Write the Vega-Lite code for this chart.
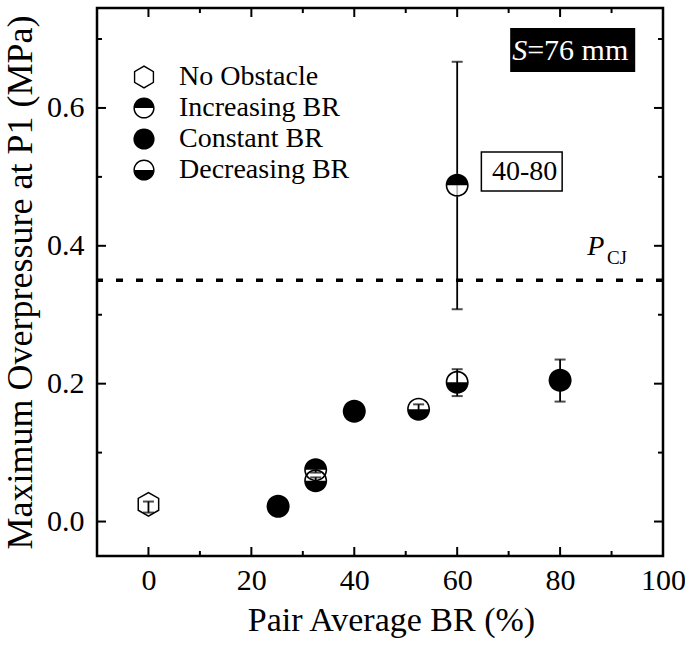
{
  "$schema": "https://vega.github.io/schema/vega-lite/v6.json",
  "width": 566,
  "height": 548,
  "autosize": {"type": "none"},
  "padding": {"left": 97, "top": 8, "right": 22, "bottom": 89},
  "config": {
    "view": {"stroke": "black", "strokeWidth": 2.5},
    "font": "Liberation Serif",
    "axis": {
      "domain": false,
      "grid": false,
      "ticks": false,
      "labelFlush": false,
      "labelOverlap": false,
      "labelFont": "Liberation Serif",
      "titleFont": "Liberation Serif",
      "labelColor": "black",
      "titleColor": "black",
      "labelFontSize": 30,
      "titleFontSize": 34,
      "titleFontWeight": "normal"
    }
  },
  "datasets": {
    "points": [
      {"type": "No Obstacle", "x": 0, "y": 0.025, "lo": 0.013, "hi": 0.029},
      {"type": "Constant BR", "x": 25.2, "y": 0.022},
      {"type": "Increasing BR", "x": 32.5, "y": 0.075, "lo": 0.071, "hi": 0.079},
      {"type": "Decreasing BR", "x": 32.5, "y": 0.059, "lo": 0.056, "hi": 0.064},
      {"type": "Constant BR", "x": 40, "y": 0.16},
      {"type": "Decreasing BR", "x": 52.5, "y": 0.163, "lo": 0.158, "hi": 0.17},
      {"type": "Increasing BR", "x": 60, "y": 0.488, "lo": 0.308, "hi": 0.667},
      {"type": "Decreasing BR", "x": 60, "y": 0.202, "lo": 0.182, "hi": 0.221},
      {"type": "Constant BR", "x": 80, "y": 0.205, "lo": 0.174, "hi": 0.235}
    ],
    "xmajor": [{"t": 0}, {"t": 20}, {"t": 40}, {"t": 60}, {"t": 80}],
    "xminor": [{"t": 10}, {"t": 30}, {"t": 50}, {"t": 70}, {"t": 90}],
    "ymajor": [{"v": 0}, {"v": 0.2}, {"v": 0.4}, {"v": 0.6}],
    "yminor": [{"v": 0.1}, {"v": 0.3}, {"v": 0.5}, {"v": 0.7}]
  },
  "data": {"name": "points"},
  "resolve": {"axis": {"x": "independent", "y": "independent"}},
  "layer": [
    {
      "data": {"values": [{"pcj": 0.35}]},
      "mark": {"type": "rule", "strokeDash": [7, 13], "strokeWidth": 3.5, "color": "black"},
      "encoding": {
        "y": {"field": "pcj", "type": "quantitative", "scale": {"domain": [-0.05, 0.745], "nice": false, "zero": false}, "axis": null}
      }
    },
    {
      "mark": {"type": "rule", "strokeWidth": 1.8, "color": "black"},
      "transform": [{"filter": "isValid(datum.lo)"}],
      "encoding": {
        "x": {"field": "x", "type": "quantitative", "scale": {"domain": [-10, 100], "nice": false, "zero": false},
          "axis": {"orient": "bottom", "values": [0, 20, 40, 60, 80, 100], "labelPadding": 9, "title": "Pair Average BR (%)", "titlePadding": 8, "titleX": 294}},
        "y": {"field": "lo", "type": "quantitative", "scale": {"domain": [-0.05, 0.745], "nice": false, "zero": false},
          "axis": {"orient": "left", "values": [0, 0.2, 0.4, 0.6], "format": ".1f", "labelPadding": 13, "title": "Maximum Overpressure at P1 (MPa)", "titleFontSize": 36, "titlePadding": 7}},
        "y2": {"field": "hi"}
      }
    },
    {
      "data": {"name": "xmajor"},
      "mark": {"type": "rule", "orient": "vertical", "strokeWidth": 2, "color": "black"},
      "encoding": {"x": {"field": "t", "type": "quantitative", "axis": null}, "y": {"datum": -0.05, "type": "quantitative", "axis": null}, "y2": {"datum": -0.0369}}
    },
    {
      "data": {"name": "xmajor"},
      "mark": {"type": "rule", "orient": "vertical", "strokeWidth": 2, "color": "black"},
      "encoding": {"x": {"field": "t", "type": "quantitative", "axis": null}, "y": {"datum": 0.745, "type": "quantitative", "axis": null}, "y2": {"datum": 0.7319}}
    },
    {
      "data": {"name": "xminor"},
      "mark": {"type": "rule", "orient": "vertical", "strokeWidth": 2, "color": "black"},
      "encoding": {"x": {"field": "t", "type": "quantitative", "axis": null}, "y": {"datum": -0.05, "type": "quantitative", "axis": null}, "y2": {"datum": -0.0427}}
    },
    {
      "data": {"name": "xminor"},
      "mark": {"type": "rule", "orient": "vertical", "strokeWidth": 2, "color": "black"},
      "encoding": {"x": {"field": "t", "type": "quantitative", "axis": null}, "y": {"datum": 0.745, "type": "quantitative", "axis": null}, "y2": {"datum": 0.7377}}
    },
    {
      "data": {"name": "ymajor"},
      "mark": {"type": "rule", "strokeWidth": 2, "color": "black"},
      "encoding": {"y": {"field": "v", "type": "quantitative", "axis": null}, "x": {"datum": -10, "type": "quantitative", "axis": null}, "x2": {"datum": -8.25}}
    },
    {
      "data": {"name": "ymajor"},
      "mark": {"type": "rule", "strokeWidth": 2, "color": "black"},
      "encoding": {"y": {"field": "v", "type": "quantitative", "axis": null}, "x": {"datum": 100, "type": "quantitative", "axis": null}, "x2": {"datum": 98.25}}
    },
    {
      "data": {"name": "yminor"},
      "mark": {"type": "rule", "strokeWidth": 2, "color": "black"},
      "encoding": {"y": {"field": "v", "type": "quantitative", "axis": null}, "x": {"datum": -10, "type": "quantitative", "axis": null}, "x2": {"datum": -9.03}}
    },
    {
      "data": {"name": "yminor"},
      "mark": {"type": "rule", "strokeWidth": 2, "color": "black"},
      "encoding": {"y": {"field": "v", "type": "quantitative", "axis": null}, "x": {"datum": 100, "type": "quantitative", "axis": null}, "x2": {"datum": 99.03}}
    },
    {
      "mark": {"type": "tick", "orient": "horizontal", "size": 11, "thickness": 2, "color": "black"},
      "transform": [{"filter": "isValid(datum.lo)"}],
      "encoding": {
        "x": {"field": "x", "type": "quantitative", "axis": null},
        "y": {"field": "lo", "type": "quantitative", "axis": null}
      }
    },
    {
      "mark": {"type": "tick", "orient": "horizontal", "size": 11, "thickness": 2, "color": "black"},
      "transform": [{"filter": "isValid(datum.hi)"}],
      "encoding": {
        "x": {"field": "x", "type": "quantitative", "axis": null},
        "y": {"field": "hi", "type": "quantitative", "axis": null}
      }
    },
    {
      "mark": {"type": "point", "shape": "circle", "filled": true, "fill": "white", "size": 529, "strokeWidth": 0},
      "transform": [{"filter": "isValid(datum.lo) && datum.hi - datum.lo > 0.1"}],
      "encoding": {
        "x": {"field": "x", "type": "quantitative", "axis": null},
        "y": {"field": "y", "type": "quantitative", "axis": null}
      }
    },
    {
      "mark": {"type": "point", "filled": true, "fill": "black", "size": 529, "strokeWidth": 0, "opacity": 1},
      "encoding": {
        "x": {"field": "x", "type": "quantitative", "axis": null},
        "y": {"field": "y", "type": "quantitative", "axis": null},
        "shape": {
          "field": "type", "type": "nominal",
          "scale": {
            "domain": ["No Obstacle", "Increasing BR", "Constant BR", "Decreasing BR"],
            "range": [
              "M 0 -1.1 L 0.953 -0.55 L 0.953 0.55 L 0 1.1 L -0.953 0.55 L -0.953 -0.55 Z M 0 -0.95 L -0.823 -0.475 L -0.823 0.475 L 0 0.95 L 0.823 0.475 L 0.823 -0.475 Z",
              "M -1 0 A 1 1 0 1 1 1 0 A 1 1 0 1 1 -1 0 Z M 0.86 0 L -0.86 0 A 0.86 0.86 0 0 0 0.86 0 Z",
              "M -1 0 A 1 1 0 1 1 1 0 A 1 1 0 1 1 -1 0 Z",
              "M -1 0 A 1 1 0 1 1 1 0 A 1 1 0 1 1 -1 0 Z M -0.86 0 L 0.86 0 A 0.86 0.86 0 0 0 -0.86 0 Z"
            ]
          },
          "legend": {"orient": "none", "legendX": 33, "legendY": 55, "title": null, "padding": 0, "labelFont": "Liberation Serif", "labelFontSize": 28, "labelColor": "black", "labelLimit": 0, "symbolFillColor": "black", "symbolStrokeWidth": 0, "symbolSize": 450, "rowPadding": 3, "labelOffset": 21}
        }
      }
    },
    {
      "data": {"values": [{"x1": 70.3, "x2": 94.6, "y1": 0.716, "y2": 0.652}]},
      "mark": {"type": "rect", "fill": "black"},
      "encoding": {
        "x": {"field": "x1", "type": "quantitative", "axis": null},
        "x2": {"field": "x2"},
        "y": {"field": "y1", "type": "quantitative", "axis": null},
        "y2": {"field": "y2"}
      }
    },
    {
      "data": {"values": [{"label": "S", "x": 73.6, "y": 0.67}]},
      "mark": {"type": "text", "fontStyle": "italic", "align": "right", "baseline": "alphabetic", "fontSize": 30, "color": "white", "font": "Liberation Serif"},
      "encoding": {"text": {"field": "label"}, "x": {"field": "x", "type": "quantitative", "axis": null}, "y": {"field": "y", "type": "quantitative", "axis": null}}
    },
    {
      "data": {"values": [{"label": "=76 mm", "x": 73.6, "y": 0.67}]},
      "mark": {"type": "text", "align": "left", "baseline": "alphabetic", "fontSize": 30, "color": "white", "font": "Liberation Serif"},
      "encoding": {"text": {"field": "label"}, "x": {"field": "x", "type": "quantitative", "axis": null}, "y": {"field": "y", "type": "quantitative", "axis": null}}
    },
    {
      "data": {"values": [{"x1": 64.7, "x2": 80.4, "y1": 0.536, "y2": 0.4794}]},
      "mark": {"type": "rect", "fill": "white", "stroke": "black", "strokeWidth": 1.5},
      "encoding": {
        "x": {"field": "x1", "type": "quantitative", "axis": null},
        "x2": {"field": "x2"},
        "y": {"field": "y1", "type": "quantitative", "axis": null},
        "y2": {"field": "y2"}
      }
    },
    {
      "data": {"values": [{"label": "40-80", "x": 73.1, "y": 0.4954}]},
      "mark": {"type": "text", "align": "center", "baseline": "alphabetic", "fontSize": 28, "color": "black", "font": "Liberation Serif"},
      "encoding": {"text": {"field": "label"}, "x": {"field": "x", "type": "quantitative", "axis": null}, "y": {"field": "y", "type": "quantitative", "axis": null}}
    },
    {
      "data": {"values": [{"label": "P", "x": 88.6, "y": 0.386}]},
      "mark": {"type": "text", "fontStyle": "italic", "align": "right", "baseline": "alphabetic", "fontSize": 28, "color": "black", "font": "Liberation Serif"},
      "encoding": {"text": {"field": "label"}, "x": {"field": "x", "type": "quantitative", "axis": null}, "y": {"field": "y", "type": "quantitative", "axis": null}}
    },
    {
      "data": {"values": [{"label": "CJ", "x": 89.1, "y": 0.373}]},
      "mark": {"type": "text", "align": "left", "baseline": "alphabetic", "fontSize": 19, "color": "black", "font": "Liberation Serif"},
      "encoding": {"text": {"field": "label"}, "x": {"field": "x", "type": "quantitative", "axis": null}, "y": {"field": "y", "type": "quantitative", "axis": null}}
    }
  ]
}
